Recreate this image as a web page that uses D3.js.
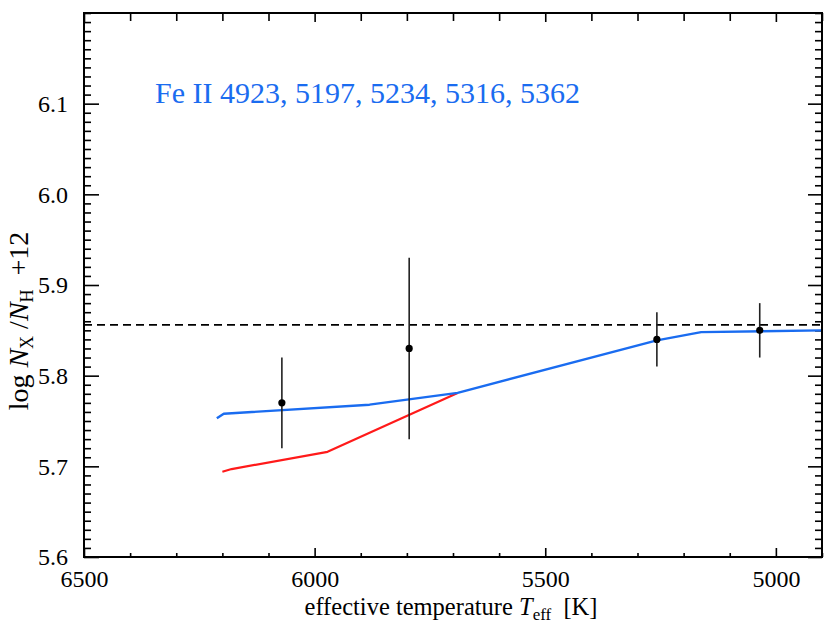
<!DOCTYPE html>
<html>
<head>
<meta charset="utf-8">
<script src="https://cdn.jsdelivr.net/npm/d3@7"></script>
<style>
  html, body { margin: 0; padding: 0; background: #fff; }
  svg { display: block; }
  svg text { font-family: "Liberation Serif", "DejaVu Serif", serif !important; fill: #000; }
</style>
</head>
<body>
<svg id="chart" width="831" height="629"></svg>
<script>
// ---- data ----
const tempMajorTicks = [6500, 6000, 5500, 5000];
const abundMajorTicks = [5.6, 5.7, 5.8, 5.9, 6.0, 6.1];
const obsTeff = [6071, 5795, 5258, 5035];
const obsAbund = [5.77, 5.83, 5.84, 5.85];
const obsErr = [0.05, 0.10, 0.03, 0.03];
const blueTeff = [6212, 6197, 5881, 5690, 5258, 5162, 4900];
const blueAbund = [5.753, 5.758, 5.768, 5.781, 5.839, 5.848, 5.850];
const redTeff = [6200, 6180, 5972, 5690];
const redAbund = [5.694, 5.697, 5.716, 5.781];
const meanAbund = 5.856;
const labelText = "Fe II 4923, 5197, 5234, 5316, 5362";

// ---- layout ----
const L = 84, R = 822, T = 13, B = 557;
const FONT = '"Liberation Serif", serif';
const svg = d3.select("#chart");
const x = d3.scaleLinear().domain([6500, 4900]).range([L, R]);
const y = d3.scaleLinear().domain([5.6, 6.2]).range([B, T]);

const tempMinor = d3.range(4900, 6501, 100).filter(v => !tempMajorTicks.includes(v));
const abundMinor = d3.range(560, 621, 1).map(v => v / 100).filter(v => !abundMajorTicks.some(m => Math.abs(m - v) < 1e-6));

function styleAxis(g) {
  g.attr("font-family", FONT);
  g.select(".domain").remove();
  g.selectAll(".tick line").attr("stroke", "#000").attr("stroke-width", 1.6);
  g.selectAll(".tick text").attr("font-size", 24).style("font-family", FONT).attr("fill", "#000");
}

// left
svg.append("g").attr("transform", `translate(${L},0)`)
  .call(d3.axisLeft(y).tickValues(abundMajorTicks).tickFormat(d3.format(".1f")).tickSizeInner(-15).tickSizeOuter(0).tickPadding(16))
  .call(styleAxis);
svg.append("g").attr("transform", `translate(${L},0)`)
  .call(d3.axisLeft(y).tickValues(abundMinor).tickFormat("").tickSizeInner(-7).tickSizeOuter(0))
  .call(styleAxis);
// right
svg.append("g").attr("transform", `translate(${R},0)`)
  .call(d3.axisRight(y).tickValues(abundMajorTicks).tickFormat("").tickSizeInner(-14).tickSizeOuter(0))
  .call(styleAxis);
svg.append("g").attr("transform", `translate(${R},0)`)
  .call(d3.axisRight(y).tickValues(abundMinor).tickFormat("").tickSizeInner(-7).tickSizeOuter(0))
  .call(styleAxis);
// bottom
svg.append("g").attr("transform", `translate(0,${B})`)
  .call(d3.axisBottom(x).tickValues(tempMajorTicks).tickFormat(d3.format("d")).tickSizeInner(-9).tickSizeOuter(0).tickPadding(13))
  .call(styleAxis);
svg.append("g").attr("transform", `translate(0,${B})`)
  .call(d3.axisBottom(x).tickValues(tempMinor).tickFormat("").tickSizeInner(-4).tickSizeOuter(0))
  .call(styleAxis);
// top
svg.append("g").attr("transform", `translate(0,${T})`)
  .call(d3.axisTop(x).tickValues(tempMajorTicks).tickFormat("").tickSizeInner(-9).tickSizeOuter(0))
  .call(styleAxis);
svg.append("g").attr("transform", `translate(0,${T})`)
  .call(d3.axisTop(x).tickValues(tempMinor).tickFormat("").tickSizeInner(-8).tickSizeOuter(0))
  .call(styleAxis);

// clip
svg.append("clipPath").attr("id", "clip").append("rect")
  .attr("x", L).attr("y", T).attr("width", R - L).attr("height", B - T);
const plot = svg.append("g").attr("clip-path", "url(#clip)");

// dashed mean line
plot.append("line")
  .attr("x1", x(6500)).attr("x2", x(4900))
  .attr("y1", y(meanAbund)).attr("y2", y(meanAbund))
  .attr("stroke", "#000").attr("stroke-width", 1.6).attr("stroke-dasharray", "8,5");

const line = d3.line().x(d => x(d[0])).y(d => y(d[1]));

// red line
plot.append("path")
  .datum(redTeff.map((t, i) => [t, redAbund[i]]))
  .attr("d", line).attr("fill", "none")
  .attr("stroke", "#ff1a1a").attr("stroke-width", 2.2).attr("stroke-linejoin", "round");

// blue line
plot.append("path")
  .datum(blueTeff.map((t, i) => [t, blueAbund[i]]))
  .attr("d", line).attr("fill", "none")
  .attr("stroke", "#1a6cf0").attr("stroke-width", 2.4).attr("stroke-linejoin", "round");

// error bars & points
const obs = obsTeff.map((t, i) => ({ t, v: obsAbund[i], e: obsErr[i] }));
plot.selectAll(".err").data(obs).enter().append("line")
  .attr("x1", d => x(d.t)).attr("x2", d => x(d.t))
  .attr("y1", d => y(d.v - d.e)).attr("y2", d => y(d.v + d.e))
  .attr("stroke", "#222").attr("stroke-width", 1.6);
plot.selectAll(".pt").data(obs).enter().append("circle")
  .attr("cx", d => x(d.t)).attr("cy", d => y(d.v)).attr("r", 3.6).attr("fill", "#000");

// frame
svg.append("rect").attr("x", L).attr("y", T).attr("width", R - L).attr("height", B - T)
  .attr("fill", "none").attr("stroke", "#000").attr("stroke-width", 2);

// label
svg.append("text").attr("x", 155).attr("y", 103)
  .attr("font-size", 30).style("fill", "#1a6cf0").text(labelText);

// x-axis title
const xt = svg.append("text").attr("x", 451).attr("y", 615).attr("text-anchor", "middle")
  .attr("font-size", 24.5).attr("xml:space", "preserve");
xt.append("tspan").text("effective temperature ");
xt.append("tspan").attr("font-style", "italic").text("T");
xt.append("tspan").attr("font-size", 17).attr("dy", 5).text("eff");
xt.append("tspan").attr("dy", -5).text("  [K]");

// y-axis title
const yt = svg.append("text").attr("transform", "translate(28,321) rotate(-90)")
  .attr("text-anchor", "middle").attr("font-size", 28).attr("xml:space", "preserve");
yt.append("tspan").text("log ");
yt.append("tspan").attr("font-style", "italic").text("N");
yt.append("tspan").attr("font-size", 18).attr("dy", 5).text("X");
yt.append("tspan").attr("dy", -5).text(" /");
yt.append("tspan").attr("font-style", "italic").text("N");
yt.append("tspan").attr("font-size", 18).attr("dy", 5).text("H");
yt.append("tspan").attr("dy", -5).text("  +12");
</script>
</body>
</html>
